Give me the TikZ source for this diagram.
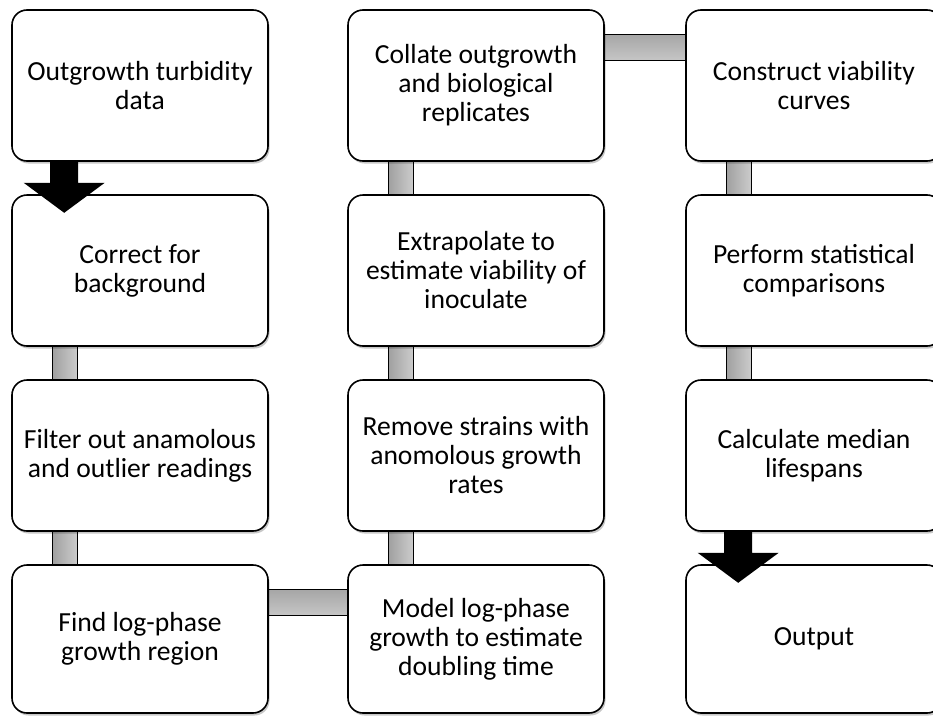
\documentclass[tikz,border=0pt]{standalone}
\usepackage{fontspec}
\setmainfont{Carlito}
\usetikzlibrary{calc,shadows,backgrounds}
\begin{document}
\begin{tikzpicture}[x=1pt,y=1pt,
  box/.style={draw=black, line width=1.6pt, rounded corners=15pt, fill=white,
    minimum width=256pt, minimum height=151pt, align=center, inner sep=0pt,
    font=\fontsize{27.6}{29}\selectfont,
    drop shadow={shadow xshift=1.5pt, shadow yshift=-2.5pt, opacity=0.22, fill=black}},
  vshade/.style={left color=gray!75, right color=gray!40},
  hshade/.style={top color=gray!70, bottom color=gray!45},
  barline/.style={draw=black, line width=1.4pt},
  blockarrow/.style={fill=black}
]
\useasboundingbox (0,0) rectangle (933,-715);
\clip (0,0) rectangle (933,-715);
% column 1
\node[box] (b1) at (140,-85.5) {Outgrowth turbidity\\data};
\node[box] (b2) at (140,-270.5) {Correct for\\background};
\node[box] (b3) at (140,-455.5) {Filter out anamolous\\and outlier readings};
\node[box, minimum height=148pt] (b4) at (140,-639) {Find log-phase\\growth region};
% column 2
\node[box] (c1) at (476,-85.5) {Collate outgrowth\\and biological\\replicates};
\node[box] (c2) at (476,-270.5) {Extrapolate to\\estimate viability of\\inoculate};
\node[box] (c3) at (476,-455.5) {Remove strains with\\anomolous growth\\rates};
\node[box, minimum height=148pt] (c4) at (476,-639) {Model log-phase\\growth to estimate\\doubling time};
% column 3
\node[box] (d1) at (814,-85.5) {Construct viability\\curves};
\node[box] (d2) at (814,-270.5) {Perform statistical\\comparisons};
\node[box] (d3) at (814,-455.5) {Calculate median\\lifespans};
\node[box, minimum height=148pt] (d4) at (814,-639) {Output};

\begin{pgfonlayer}{background}
% vertical bars
\foreach \u/\v in {b2/b3, b3/b4, c1/c2, c2/c3, c3/c4, d1/d2, d2/d3} {
  \fill[vshade] ([xshift=41pt]\u.south west) rectangle ([xshift=66pt]\v.north west);
  \draw[barline] ([xshift=41pt]\u.south west) -- ([xshift=41pt]\v.north west);
  \draw[barline] ([xshift=66pt]\u.south west) -- ([xshift=66pt]\v.north west);
}
% horizontal bars
\foreach \u/\v in {c1/d1, b4/c4} {
  \fill[hshade] ([yshift=-25pt]\u.north east) rectangle ([yshift=-51pt]\v.north west);
  \draw[barline] ([yshift=-25pt]\u.north east) -- ([yshift=-25pt]\v.north west);
  \draw[barline] ([yshift=-51pt]\u.north east) -- ([yshift=-51pt]\v.north west);
}
\end{pgfonlayer}

% block arrows
\foreach \u in {b1, d3} {
  \fill[blockarrow] ([xshift=39pt]\u.south west) -- ++(0,-21) -- ++(-26.5,0)
    -- ++(40.5,-30) -- ++(40.5,30) -- ++(-26.5,0) -- ++(0,21) -- cycle;
}
\end{tikzpicture}
\end{document}
